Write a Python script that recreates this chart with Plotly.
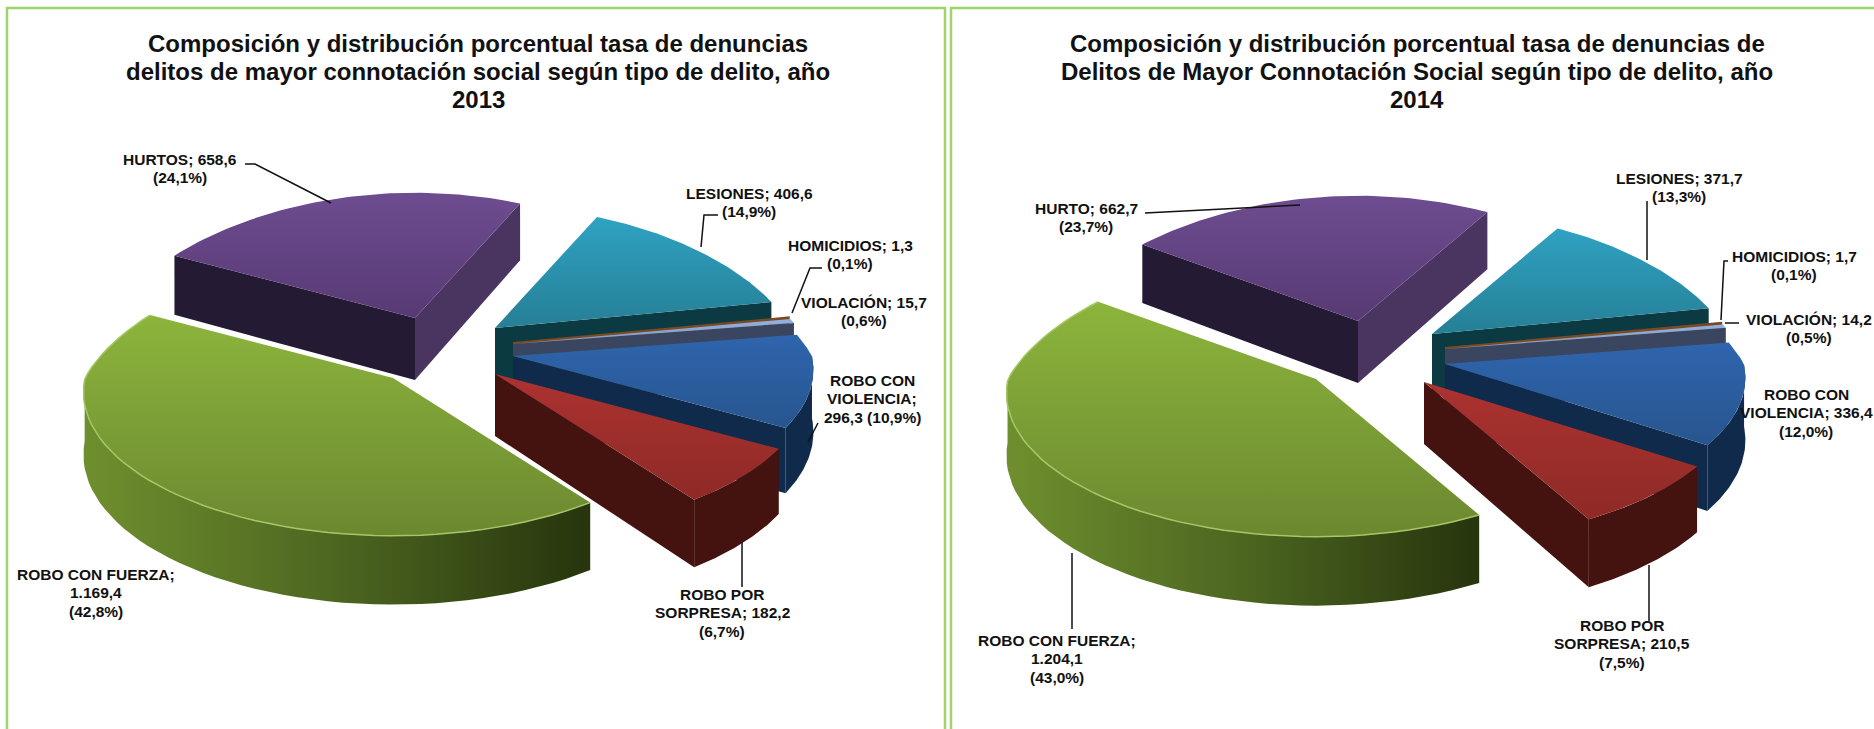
# -*- coding: utf-8 -*-
"""Dos tortas 3D separadas: tasa de denuncias DMCS 2013 y 2014."""
import numpy as np
import plotly.graph_objects as go

# datos, en el orden del grafico (horario desde LESIONES)
delitos = ["LESIONES", "HOMICIDIOS", "VIOLACION", "ROBO CON VIOLENCIA",
           "ROBO POR SORPRESA", "ROBO CON FUERZA", "HURTOS"]
valores_2013 = [406.6, 1.3, 15.7, 296.3, 182.2, 1169.4, 658.6]
valores_2014 = [371.7, 1.7, 14.2, 336.4, 210.5, 1204.1, 662.7]

titulo_2013 = ["Composición y distribución porcentual tasa de denuncias",
               "delitos de mayor connotación social según tipo de delito, año",
               "2013"]
titulo_2014 = ["Composición y distribución porcentual tasa de denuncias de",
               "Delitos de Mayor Connotación Social según tipo de delito, año",
               "2014"]

etiquetas_2013 = [["LESIONES; 406,6", "(14,9%)"], ["HOMICIDIOS; 1,3", "(0,1%)"], ["VIOLACIÓN; 15,7", "(0,6%)"],
                  ["ROBO CON", "VIOLENCIA;", "296,3 (10,9%)"], ["ROBO POR", "SORPRESA; 182,2", "(6,7%)"],
                  ["ROBO CON FUERZA;", "1.169,4", "(42,8%)"], ["HURTOS; 658,6", "(24,1%)"]]
etiquetas_2014 = [["LESIONES; 371,7", "(13,3%)"], ["HOMICIDIOS; 1,7", "(0,1%)"], ["VIOLACIÓN; 14,2", "(0,5%)"],
                  ["ROBO CON", "VIOLENCIA; 336,4", "(12,0%)"], ["ROBO POR", "SORPRESA; 210,5", "(7,5%)"],
                  ["ROBO CON FUERZA;", "1.204,1", "(43,0%)"], ["HURTO; 662,7", "(23,7%)"]]

# colores: arriba claro, arriba oscuro, pared
colores = [("#2FA2C2", "#267F96", "#0C3A42"),
           ("#E08A3C", "#C8742C", "#7A4A20"),
           ("#94B0E0", "#7F9BCC", "#3A4560"),
           ("#2F65AE", "#27558E", "#0F2A4A"),
           ("#AC3230", "#8E2A26", "#44120F"),
           ("#8CB53C", "#6C8830", "#46601C"),
           ("#6E4C90", "#573A74", "#241A33")]

# geometria de cada torta (px de la pagina)
vertices_2013 = [(495, 328), (513, 342), (513, 344), (513, 356), (495, 374), (393, 378), (415, 318)]
vertices_2014 = [(1432, 334), (1445, 347), (1445, 349), (1445, 364), (1424, 382), (1316, 379), (1358, 321)]
radios = [0.97, 0.97, 0.97, 0.98, 1.02, 1.01, 1.0]
ANCHO, ALTO, PERSP_ATRAS, PERSP_FRENTE, PERSP_Y, PROF = 305, 139, 0.25, 0.10, 0.11, 62

fig = go.Figure()


def rim(theta, escala=1.0):
    u, v = np.sin(theta), np.cos(theta)
    p = np.where(v > 0, PERSP_ATRAS, PERSP_FRENTE)
    return escala * ANCHO * u / (1 + p * v), -escala * ALTO * v / (1 + PERSP_Y * v), PROF / (1 + 0.1 * v)


def poly(xs, ys, **kw):
    fig.add_trace(go.Scatter(x=list(xs), y=list(ys), mode="lines", fill="toself",
                             line=dict(width=0), hoverinfo="skip", showlegend=False, **kw))


def torta(valores, vertices, inicio):
    total = sum(valores)
    angulos = np.radians(inicio + np.cumsum([0] + valores) / total * 360)
    # de atras hacia adelante: hurtos primero
    for i in [6, 0, 1, 2, 3, 4, 5]:
        a0, a1 = angulos[i], angulos[i + 1]
        vx, vy = vertices[i]
        claro, oscuro, pared = colores[i]
        t = np.linspace(a0, a1, 60)
        x, y, d = rim(t, radios[i])
        # caras radiales visibles
        if np.sin(a0) < 0:
            xe, ye, de = rim(a0, radios[i])
            poly([vx, vx + xe, vx + xe, vx], [vy, vy + ye, vy + ye + de, vy + PROF], fillcolor=pared)
        if np.sin(a1) > 0:
            xe, ye, de = rim(a1, radios[i])
            poly([vx, vx + xe, vx + xe, vx], [vy, vy + ye, vy + ye + de, vy + PROF],
                 fillcolor="#4A3560" if i == 6 else pared)
        # pared curva, solo el frente
        frente = np.cos(t) < 0
        if frente.any():
            xf, yf, df = x[frente], y[frente], d[frente]
            xs = np.r_[vx + xf, (vx + xf)[::-1]]
            ys = np.r_[vy + yf, (vy + yf + df)[::-1]]
            if i == 5:
                poly(xs, ys, fillgradient=dict(type="horizontal",
                                               colorscale=[[0, "#6F8F2E"], [0.5, "#4C6620"], [1, "#27340D"]]))
            else:
                poly(xs, ys, fillcolor=pared)
        # cara superior
        poly(np.r_[vx, vx + x, vx], np.r_[vy, vy + y, vy],
             fillgradient=dict(type="vertical", colorscale=[[0, oscuro], [1, claro]]))
        if i == 5:
            fig.add_trace(go.Scatter(x=vx + x, y=vy + y, mode="lines", line=dict(color="#A6C765", width=1.5),
                                     hoverinfo="skip", showlegend=False))


torta(valores_2013, vertices_2013, 25)
torta(valores_2014, vertices_2014, 31)

fig.update_xaxes(range=[0, 1874], visible=False, fixedrange=True)
fig.update_yaxes(range=[729, 0], visible=False, fixedrange=True)

# titulos
for lineas, cx in [(titulo_2013, 478), (titulo_2014, 1417)]:
    for linea, yy in zip(lineas, [43, 71, 99]):
        fig.add_annotation(x=cx, y=yy, text="<b>%s</b>" % linea, showarrow=False,
                           font=dict(size=24, color="#111111"))

# etiquetas (centro x, y de la primera linea)
pos_2013 = [(749, 193), (850, 245), (864, 302), (872, 380), (722, 594), (96, 574), (180, 159)]
pos_2014 = [(1679, 178), (1794, 256), (1809, 319), (1806, 394), (1622, 625), (1057, 640), (1086, 208)]
for textos, posiciones in [(etiquetas_2013, pos_2013), (etiquetas_2014, pos_2014)]:
    for lineas, (px, py) in zip(textos, posiciones):
        for k, linea in enumerate(lineas):
            fig.add_annotation(x=px, y=py + k * 18.7, text="<b>%s</b>" % linea, showarrow=False,
                               font=dict(size=15.5, color="#111111"))

# lineas guia
guias = [[(245, 164), (255, 164), (331, 203)], [(718, 215), (704, 215), (701, 247)],
         [(822, 268), (810, 268), (792, 313)], [(818, 423), (808, 442)], [(742, 542), (742, 587)],
         [(1145, 213), (1300, 205)], [(1647, 201), (1647, 260)], [(1728, 261), (1724, 261), (1721, 320)],
         [(1739, 323), (1725, 323)], [(1649, 565), (1649, 621)], [(1072, 553), (1072, 629)]]
for g in guias:
    fig.add_trace(go.Scatter(x=[p[0] for p in g], y=[p[1] for p in g], mode="lines",
                             line=dict(color="#111111", width=1.5), hoverinfo="skip", showlegend=False))

# marcos verdes de cada panel
for x0, x1 in [(7, 945), (951, 1890)]:
    fig.add_shape(type="rect", x0=x0, x1=x1, y0=8, y1=760, line=dict(color="#9ED46C", width=2.5))

fig.update_layout(width=1874, height=729, margin=dict(l=0, r=0, t=0, b=0),
                  paper_bgcolor="white", plot_bgcolor="white",
                  font=dict(family="Liberation Sans, Arial, sans-serif"))
# sin margen del body para que la figura calce con la ventana
fig.write_html("out.html", config=dict(displayModeBar=False),
               post_script="document.body.style.margin='0';document.documentElement.style.overflow='hidden';")
